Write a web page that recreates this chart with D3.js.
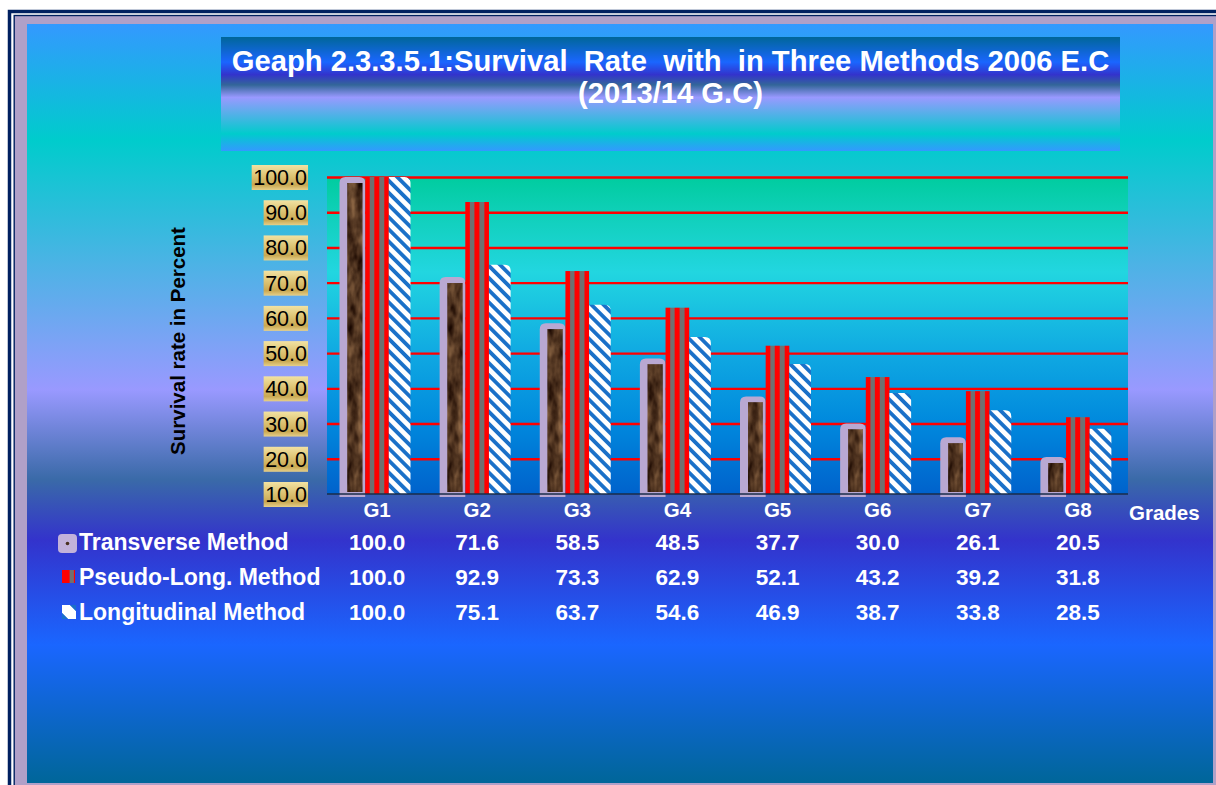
<!DOCTYPE html>
<html><head><meta charset="utf-8">
<script src="https://cdn.jsdelivr.net/npm/d3@7"></script>
<style>body{margin:0;background:#fff}svg{display:block}text{font-family:"Liberation Sans",Arial,sans-serif}</style>
</head><body><svg id="c" width="1216" height="785"></svg>
<script>
const categories = ["G1","G2","G3","G4","G5","G6","G7","G8"];
const seriesNames = ["Transverse Method","Pseudo-Long. Method","Longitudinal Method"];
const transverse = [100.0,71.6,58.5,48.5,37.7,30.0,26.1,20.5];
const pseudoLong = [100.0,92.9,73.3,62.9,52.1,43.2,39.2,31.8];
const longitudinal = [100.0,75.1,63.7,54.6,46.9,38.7,33.8,28.5];
const yTicks = [10,20,30,40,50,60,70,80,90,100];
const titleLines = ["Geaph 2.3.3.5.1:Survival  Rate  with  in Three Methods 2006 E.C","(2013/14 G.C)"];
const yTitle = "Survival rate in Percent";
const xTitle = "Grades";
const seriesValues = [transverse, pseudoLong, longitudinal];

const svg = d3.select("#c");
const defs = svg.append("defs");
function grad(id, stops, horiz){
  const g = defs.append("linearGradient").attr("id", id)
    .attr("x1",0).attr("y1",0).attr("x2", horiz?1:0).attr("y2", horiz?0:1);
  stops.forEach(s => g.append("stop").attr("offset", s[0]).attr("stop-color", s[1]));
}
grad("pageBg", [[0,"#3399ff"],[0.153,"#00cccc"],[0.482,"#9999ff"],[0.60,"#3a6aa8"],[0.68,"#3333cc"],[0.818,"#1a66ff"],[1,"#006699"]]);
grad("titleBg", [[0,"#006699"],[0.22,"#1a66ff"],[0.33,"#3333cc"],[0.42,"#336699"],[0.53,"#9999ff"],[0.85,"#00cccc"],[1,"#3399ff"]]);
grad("plotBg", [[0,"#00cc9f"],[0.12,"#10d0ba"],[0.3,"#22d6e0"],[0.55,"#10aae2"],[0.78,"#0088dd"],[1,"#0062cc"]]);
grad("gold", [[0,"#f2e2a2"],[0.45,"#dcc272"],[0.8,"#c9a852"],[1,"#e6d08a"]]);
grad("pseudo", [[0,"#ff0000"],[0.17,"#ff0000"],[0.22,"#707070"],[0.36,"#707070"],[0.41,"#ff0000"],[0.57,"#ff0000"],[0.62,"#707070"],[0.78,"#707070"],[0.83,"#ff0000"],[1,"#ff0000"]], true);
grad("pseudoKey", [[0,"#ff0000"],[0.55,"#ff0000"],[0.62,"#707070"],[0.88,"#707070"],[0.92,"#ff0000"],[1,"#ff0000"]], true);

const pat = defs.append("pattern").attr("id","diag").attr("patternUnits","userSpaceOnUse")
  .attr("width",8.6).attr("height",8.6).attr("patternTransform","rotate(-45)");
pat.append("rect").attr("width",8.6).attr("height",8.6).attr("fill","#ffffff");
pat.append("rect").attr("width",3.8).attr("height",8.6).attr("fill","#1a70c8");

const f = defs.append("filter").attr("id","wood").attr("x","0").attr("y","0").attr("width","1").attr("height","1")
  .attr("color-interpolation-filters","sRGB");
f.append("feTurbulence").attr("type","fractalNoise").attr("baseFrequency","0.1 0.045").attr("numOctaves",3).attr("seed",4).attr("result","n");
f.append("feColorMatrix").attr("in","n").attr("type","matrix")
  .attr("values","0.7 0 0 0 -0.03  0.58 0 0 0 -0.08  0.42 0 0 0 -0.08  0 0 0 0 1").attr("result","c");
f.append("feComposite").attr("in","c").attr("in2","SourceGraphic").attr("operator","in");

// frame
svg.append("rect").attr("x",9.5).attr("y",11.5).attr("width",1220).attr("height",790).attr("fill","none").attr("stroke","#002060").attr("stroke-width",3.5);
svg.append("rect").attr("x",14.2).attr("y",15.5).attr("width",1220).attr("height",790).attr("fill","#b0a0c8").attr("stroke","#002060").attr("stroke-width",1.4);
svg.append("rect").attr("x",27).attr("y",24).attr("width",1186).attr("height",759).attr("fill","url(#pageBg)");

// title
svg.append("rect").attr("x",221).attr("y",37).attr("width",899).attr("height",114).attr("fill","url(#titleBg)");
svg.append("g").selectAll("text").data(titleLines).join("text")
  .attr("x",670.5).attr("y",(d,i)=> i===0 ? 70.5 : 103).attr("text-anchor","middle")
  .attr("fill","#fff").attr("font-weight","bold").attr("font-size",29.2).style("white-space","pre")
  .text(d=>d);

// scales
const x = d3.scaleBand().domain(categories).range([327,1128]);
const y = d3.scaleLinear().domain([10,100]).range([494,177]);
const xs = d3.scaleBand().domain([0,1,2]).range([12.5,83.5]);

svg.append("rect").attr("x",327).attr("y",177).attr("width",801).attr("height",317).attr("fill","url(#plotBg)");

// grid
const grid = svg.append("g").attr("transform","translate(327,0)")
  .call(d3.axisLeft(y).tickValues(yTicks.filter(t=>t>10)).tickSize(-801).tickFormat(""));
grid.select(".domain").remove();
grid.selectAll("line").attr("stroke","#ff0000").attr("stroke-width",2.4);

// bars
const groups = svg.append("g").selectAll("g").data(categories).join("g")
  .attr("transform", d=>`translate(${x(d)},0)`);
function topRound(x0, y0, w, h, rl, rr){
  return `M${x0},${y0+h}V${y0+rl}Q${x0},${y0} ${x0+rl},${y0}H${x0+w-rr}Q${x0+w},${y0} ${x0+w},${y0+rr}V${y0+h}Z`;
}
// transverse
groups.append("path").attr("fill","#b9a8d2")
  .attr("d",(d,i)=>{const yt=y(transverse[i]);return topRound(xs(0),yt,xs.bandwidth()+2,497-yt,6,6);});
groups.append("rect").attr("fill","#3a2212").attr("filter","url(#wood)")
  .attr("x",xs(0)+8).attr("width",xs.bandwidth()-9)
  .attr("y",(d,i)=>y(transverse[i])+6).attr("height",(d,i)=>492-y(transverse[i])-6)
  .attr("stroke","#7a6080").attr("stroke-width",0.6);
// pseudo
groups.append("rect").attr("fill","url(#pseudo)")
  .attr("x",xs(1)+2).attr("width",xs.bandwidth())
  .attr("y",(d,i)=>y(pseudoLong[i])).attr("height",(d,i)=>494-y(pseudoLong[i]));
// longitudinal
groups.append("path").attr("fill","url(#diag)")
  .attr("d",(d,i)=>{const yt=y(longitudinal[i]);return topRound(xs(2)+2,yt,xs.bandwidth()-2,494-yt,0,6);});

// axis line
svg.append("line").attr("x1",327).attr("x2",1128).attr("y1",494).attr("y2",494).attr("stroke","#1a2c4a").attr("stroke-width",1.6);

// y tick labels
const ya = svg.append("g").attr("transform","translate(307,0)")
  .call(d3.axisLeft(y).tickValues(yTicks).tickSize(0).tickPadding(0).tickFormat(d3.format(".1f")));
ya.select(".domain").remove();
ya.selectAll("text").attr("font-size",21.5).attr("fill","#000").attr("font-family",'"Liberation Sans",Arial,sans-serif').attr("dy","0.35em");
ya.selectAll(".tick").each(function(){
  const t = d3.select(this).select("text");
  const bb = t.node().getBBox();
  d3.select(this).insert("rect","text").attr("x",bb.x-1.5).attr("width",bb.width+2.5).attr("y",-12.5).attr("height",25).attr("fill","url(#gold)");
});

// y title
svg.append("text").attr("transform","translate(185,341) rotate(-90)").attr("text-anchor","middle")
  .attr("font-weight","bold").attr("font-size",20.5).attr("fill","#000").text(yTitle);

// x labels
svg.append("g").selectAll("text").data(categories).join("text")
  .attr("x",d=>x(d)+x.bandwidth()/2).attr("y",517).attr("text-anchor","middle")
  .attr("fill","#fff").attr("font-weight","bold").attr("font-size",20.5).text(d=>d);
svg.append("text").attr("x",1129).attr("y",519.5).attr("fill","#fff").attr("font-weight","bold").attr("font-size",20.5).text(xTitle);

// data table
const rowY = [550, 585, 619.5];
const tbl = svg.append("g");
seriesNames.forEach((name,si)=>{
  tbl.append("text").attr("x",79).attr("y",rowY[si]).attr("fill","#fff").attr("font-weight","bold").attr("font-size",23).text(name);
  tbl.append("g").selectAll("text").data(seriesValues[si]).join("text")
    .attr("x",(d,i)=>x(categories[i])+x.bandwidth()/2).attr("y",rowY[si]).attr("text-anchor","middle")
    .attr("fill","#fff").attr("font-weight","bold").attr("font-size",22.5).text(d=>d3.format(".1f")(d));
});
// legend keys
tbl.append("rect").attr("x",58).attr("y",534).attr("width",19).attr("height",19).attr("rx",4).attr("fill","#c2b2da");
tbl.append("circle").attr("cx",67.5).attr("cy",543.5).attr("r",1.8).attr("fill","#4a3020");
tbl.append("rect").attr("x",62).attr("y",570).attr("width",13).attr("height",13).attr("fill","url(#pseudoKey)");
tbl.append("path").attr("d","M62,605H70L76,611V619H68L62,613Z").attr("fill","#fff");
tbl.append("path").attr("d","M62,613L68,619H62Z").attr("fill","#1a70c8");
tbl.append("path").attr("d","M70,605H76V611Z").attr("fill","#1a70c8");
</script></body></html>
